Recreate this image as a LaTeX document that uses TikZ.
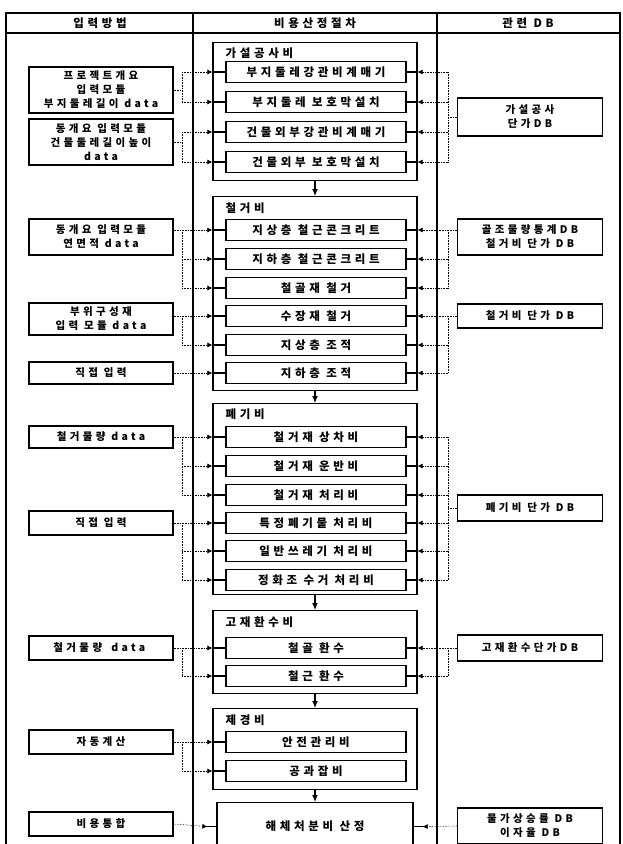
\documentclass[tikz,border=0pt]{standalone}
\usepackage{fontspec}
\setmainfont{Noto Sans CJK KR}[LetterSpace=32,AutoFakeSlant=0.2]
\usetikzlibrary{arrows.meta}

\tikzset{
  every node/.style={font=\bfseries\fontsize{11.5}{14}\selectfont},
  frame/.style={line width=1.4pt},
  grpbox/.style={draw, line width=1.3pt, minimum width=204pt, anchor=north},
  subbox/.style={draw, line width=1.3pt, minimum width=180pt, minimum height=21pt},
  inbox/.style={draw, line width=1.3pt, minimum width=144pt, align=center, inner sep=2pt,
    font=\bfseries\fontsize{10.5}{14}\selectfont},
  dbbox/.style={draw, line width=1.3pt, minimum width=145pt, align=center, inner sep=2pt,
    font=\bfseries\fontsize{10.5}{14}\selectfont},
  feed/.style={densely dotted, line width=0.6pt},
  tip/.style={-{Latex[length=5pt,width=5pt]}},
  flow/.style={line width=1.2pt, -{Latex[length=7pt,width=6pt]}},
}

\begin{document}
\begin{tikzpicture}[x=1pt,y=-1pt]
  \useasboundingbox (0,0) rectangle (622,844);

  % table
  \draw[frame] (6,844) -- (6,13) -- (620,13) -- (620,844);
  \draw[frame] (6,33) -- (620,33);
  \draw[frame] (193,13) -- (193,844);
  \draw[frame] (437,13) -- (437,844);
  \node (h1) at (100,23) {입력방법};
  \node (h2) at (315,23) {비용산정절차};
  \node (h3) at (528,23) {관련 DB};

  % spines of the brackets
  \coordinate (lb) at (182,0);
  \coordinate (rb) at (448,0);

  % cost groups
  \node[grpbox, minimum height=138pt] (g1) at (315,42) {};
  \node[grpbox, minimum height=194pt] (g2) at (315,196) {};
  \node[grpbox, minimum height=191pt] (g3) at (315,403) {};
  \node[grpbox, minimum height=83pt] (g4) at (315,610) {};
  \node[grpbox, minimum height=81pt] (g5) at (315,708) {};
  \node[draw, line width=1.3pt, minimum width=196pt, minimum height=48pt, anchor=north] (fin) at (315,802) {해체처분비 산정};

  \node[anchor=west] (t1) at (222,53) {가설공사비};
  \node[anchor=west] (t2) at (222,208) {철거비};
  \node[anchor=west] (t3) at (222,414) {폐기비};
  \node[anchor=west] (t4) at (222,622) {고재환수비};
  \node[anchor=west] (t5) at (222,720) {제경비};

  \node[subbox] (s11) at (316,72) {부지둘레강관비계매기};
  \node[subbox] (s12) at (316,102) {부지둘레 보호막설치};
  \node[subbox] (s13) at (316,132) {건물외부강관비계매기};
  \node[subbox] (s14) at (316,162) {건물외부 보호막설치};

  \node[subbox] (s21) at (316,230) {지상층 철근콘크리트};
  \node[subbox] (s22) at (316,259) {지하층 철근콘크리트};
  \node[subbox] (s23) at (316,288) {철골재 철거};
  \node[subbox] (s24) at (316,316) {수장재 철거};
  \node[subbox] (s25) at (316,345) {지상층 조적};
  \node[subbox] (s26) at (316,373) {지하층 조적};

  \node[subbox] (s31) at (316,437) {철거재 상차비};
  \node[subbox] (s32) at (316,466) {철거재 운반비};
  \node[subbox] (s33) at (316,495) {철거재 처리비};
  \node[subbox] (s34) at (316,523) {특정폐기물 처리비};
  \node[subbox] (s35) at (316,551) {일반쓰레기 처리비};
  \node[subbox] (s36) at (316,580) {정화조 수거 처리비};

  \node[subbox] (s41) at (316,648) {철골 환수};
  \node[subbox] (s42) at (316,676) {철근 환수};

  \node[subbox] (s51) at (316,742) {안전관리비};
  \node[subbox] (s52) at (316,771) {공과잡비};

  % input methods
  \node[inbox, minimum height=46pt] (i1) at (101,90) {프로젝트개요\\입력모듈\\부지둘레길이 data};
  \node[inbox, minimum height=46pt] (i2) at (101,142) {동개요 입력모듈\\건물둘레길이높이\\data};
  \node[inbox, minimum height=36pt] (i3) at (101,237) {동개요 입력모듈\\연면적 data};
  \node[inbox, minimum height=32pt] (i4) at (101,319) {부위구성재\\입력 모듈 data};
  \node[inbox, minimum height=22pt] (i5) at (101,373) {직접 입력};
  \node[inbox, minimum height=22pt] (i6) at (101,437) {철거물량 data};
  \node[inbox, minimum height=24pt] (i7) at (101,523) {직접 입력};
  \node[inbox, minimum height=24pt] (i8) at (101,648) {철거물량 \textit{data}};
  \node[inbox, minimum height=24pt] (i9) at (101,742) {자동계산};
  \node[inbox, minimum height=24pt] (i10) at (101,824) {비용통합};

  % related DB
  \node[dbbox, minimum height=38pt] (d1) at (530,117) {가설공사\\단가DB};
  \node[dbbox, minimum height=36pt] (d2) at (530,237) {골조물량통계DB\\철거비 단가 DB};
  \node[dbbox, minimum height=24pt] (d3) at (530,316) {철거비 단가 DB};
  \node[dbbox, minimum height=26pt] (d4) at (530,508) {폐기비 단가 DB};
  \node[dbbox, minimum height=26pt] (d5) at (530,648) {고재환수단가DB};
  \node[dbbox, minimum height=36pt] (d6) at (530,826) {물가상승률 DB\\이자율 DB};

  % flow between groups
  \draw[flow] (g1.south) -- (g2.north);
  \draw[flow] (g2.south) -- (g3.north);
  \draw[flow] (g3.south) -- (g4.north);
  \draw[flow] (g4.south) -- (g5.north);
  \draw[flow] (g5.south) -- (fin.north);

  % stubs inside the groups
  \begin{scope}[line width=1.2pt]
    \draw (g1.west |- s11) -- (s11.west) (s11.east) -- (g1.east |- s11);
    \draw (g1.west |- s12) -- (s12.west) (s12.east) -- (g1.east |- s12);
    \draw (g1.west |- s13) -- (s13.west) (s13.east) -- (g1.east |- s13);
    \draw (g1.west |- s14) -- (s14.west) (s14.east) -- (g1.east |- s14);
    \draw (g2.west |- s21) -- (s21.west) (s21.east) -- (g2.east |- s21);
    \draw (g2.west |- s22) -- (s22.west) (s22.east) -- (g2.east |- s22);
    \draw (g2.west |- s23) -- (s23.west) (s23.east) -- (g2.east |- s23);
    \draw (g2.west |- s24) -- (s24.west) (s24.east) -- (g2.east |- s24);
    \draw (g2.west |- s25) -- (s25.west) (s25.east) -- (g2.east |- s25);
    \draw (g2.west |- s26) -- (s26.west) (s26.east) -- (g2.east |- s26);
    \draw (g3.west |- s31) -- (s31.west) (s31.east) -- (g3.east |- s31);
    \draw (g3.west |- s32) -- (s32.west) (s32.east) -- (g3.east |- s32);
    \draw (g3.west |- s33) -- (s33.west) (s33.east) -- (g3.east |- s33);
    \draw (g3.west |- s34) -- (s34.west) (s34.east) -- (g3.east |- s34);
    \draw (g3.west |- s35) -- (s35.west) (s35.east) -- (g3.east |- s35);
    \draw (g3.west |- s36) -- (s36.west) (s36.east) -- (g3.east |- s36);
    \draw (g4.west |- s41) -- (s41.west) (s41.east) -- (g4.east |- s41);
    \draw (g4.west |- s42) -- (s42.west) (s42.east) -- (g4.east |- s42);
    \draw (g5.west |- s51) -- (s51.west);
    \draw (g5.west |- s52) -- (s52.west);
    \draw ([xshift=-9pt]fin.west) -- (fin.west) (fin.east) -- ([xshift=9pt]fin.east);
  \end{scope}

  % input side
  \begin{scope}[feed]
    \draw (i1.east) -- (lb |- i1.east);
    \draw (lb |- s11) -- (lb |- s12);
    \draw[tip] (lb |- s11) -- (g1.west |- s11);
    \draw[tip] (lb |- s12) -- (g1.west |- s12);
    \draw (i2.east) -- (lb |- i2.east);
    \draw (lb |- s13) -- (lb |- s14);
    \draw[tip] (lb |- s13) -- (g1.west |- s13);
    \draw[tip] (lb |- s14) -- (g1.west |- s14);
    \draw[tip] (i3.east |- s21) -- (g2.west |- s21);
    \draw (lb |- s21) -- (lb |- s23);
    \draw[tip] (lb |- s22) -- (g2.west |- s22);
    \draw[tip] (lb |- s23) -- (g2.west |- s23);
    \draw[tip] (i4.east |- s24) -- (g2.west |- s24);
    \draw (lb |- s24) -- (lb |- s25);
    \draw[tip] (lb |- s25) -- (g2.west |- s25);
    \draw[tip] (i5.east |- s26) -- (g2.west |- s26);
    \draw[tip] (i6.east |- s31) -- (g3.west |- s31);
    \draw (lb |- s31) -- (lb |- s33);
    \draw[tip] (lb |- s32) -- (g3.west |- s32);
    \draw[tip] (lb |- s33) -- (g3.west |- s33);
    \draw[tip] (i7.east |- s34) -- (g3.west |- s34);
    \draw (lb |- s34) -- (lb |- s36);
    \draw[tip] (lb |- s35) -- (g3.west |- s35);
    \draw[tip] (lb |- s36) -- (g3.west |- s36);
    \draw[tip] (i8.east |- s41) -- (g4.west |- s41);
    \draw (lb |- s41) -- (lb |- s42);
    \draw[tip] (lb |- s42) -- (g4.west |- s42);
    \draw[tip] (i9.east |- s51) -- (g5.west |- s51);
    \draw (lb |- s51) -- (lb |- s52);
    \draw[tip] (lb |- s52) -- (g5.west |- s52);
    \draw[tip] (i10.east) -- ([xshift=-9pt]fin.west);
  \end{scope}

  % DB side
  \begin{scope}[feed]
    \draw (d1.west) -- (rb |- d1.west);
    \draw (rb |- s11) -- (rb |- s14);
    \draw[tip] (rb |- s11) -- (g1.east |- s11);
    \draw[tip] (rb |- s12) -- (g1.east |- s12);
    \draw[tip] (rb |- s13) -- (g1.east |- s13);
    \draw[tip] (rb |- s14) -- (g1.east |- s14);
    \draw[tip] (d2.west |- s21) -- (g2.east |- s21);
    \draw (rb |- s21) -- (rb |- s23);
    \draw[tip] (rb |- s22) -- (g2.east |- s22);
    \draw[tip] (rb |- s23) -- (g2.east |- s23);
    \draw[tip] (d3.west |- s24) -- (g2.east |- s24);
    \draw (rb |- s24) -- (rb |- s26);
    \draw[tip] (rb |- s25) -- (g2.east |- s25);
    \draw[tip] (rb |- s26) -- (g2.east |- s26);
    \draw (d4.west) -- (rb |- d4.west);
    \draw (rb |- s31) -- (rb |- s36);
    \draw[tip] (rb |- s31) -- (g3.east |- s31);
    \draw[tip] (rb |- s32) -- (g3.east |- s32);
    \draw[tip] (rb |- s33) -- (g3.east |- s33);
    \draw[tip] (rb |- s34) -- (g3.east |- s34);
    \draw[tip] (rb |- s35) -- (g3.east |- s35);
    \draw[tip] (rb |- s36) -- (g3.east |- s36);
    \draw[tip] (d5.west |- s41) -- (g4.east |- s41);
    \draw (rb |- s41) -- (rb |- s42);
    \draw[tip] (rb |- s42) -- (g4.east |- s42);
    \draw[tip] (d6.west) -- ([xshift=9pt]fin.east);
  \end{scope}
\end{tikzpicture}
\end{document}
